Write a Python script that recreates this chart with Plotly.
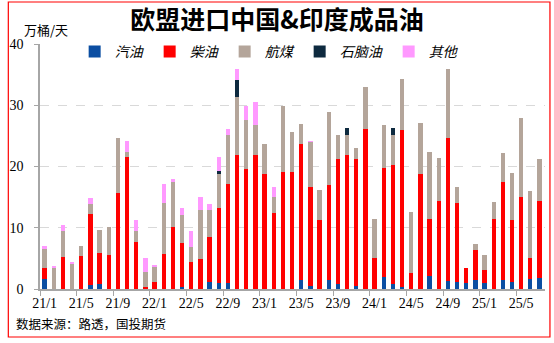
import plotly.graph_objects as go

months = ["21/1","21/2","21/3","21/4","21/5","21/6","21/7","21/8","21/9","21/10","21/11","21/12",
          "22/1","22/2","22/3","22/4","22/5","22/6","22/7","22/8","22/9","22/10","22/11","22/12",
          "23/1","23/2","23/3","23/4","23/5","23/6","23/7","23/8","23/9","23/10","23/11","23/12",
          "24/1","24/2","24/3","24/4","24/5","24/6","24/7","24/8","24/9","24/10","24/11","24/12",
          "25/1","25/2","25/3","25/4","25/5","25/6","25/7"]

gasoline = [1.7,0,0,0,0,0.6,0.8,0,0,0,0,0,
            0,0,0,0.4,0,0,1.2,0.9,0.9,0,0,0,
            0,0,0,0,1.5,0.5,0,1.5,0.8,0,0.55,0,
            0,1.9,0.8,0.3,0,0,2.2,0,1.35,1.1,1.05,1.5,
            0.9,0,1.5,1.15,0,1.6,1.85]
diesel = [1.7,0,5.2,0,5.4,11.6,5.1,5.55,15.7,21.6,7.7,0.3,
          1.1,5.7,10.1,7.1,4.4,4.9,7.3,12.4,16.2,21.8,19.65,21.8,
          18.8,12.4,19.15,19.05,22.2,16.2,11.3,15.5,20.4,21.9,20.75,26.2,
          5.1,17.85,19.4,25.65,2.65,18.8,9.3,14.3,23.25,13.0,2.35,4.8,
          2.15,11.5,16.0,10.15,15.1,3.4,12.45]
jet = [3.2,3.5,4.2,4.2,1.6,1.7,3.8,4.55,8.9,0.7,1.8,2.4,
       2.55,8.3,7.5,4.6,2.4,8.05,4.45,5.5,8.1,9.6,7.95,5.0,
       4.8,2.7,10.65,6.55,3.2,7.3,4.9,11.95,3.9,3.2,1.8,6.7,
       6.4,6.95,5.0,8.35,9.85,8.25,10.8,7.1,11.4,2.6,0,1.0,
       2.5,2.65,4.7,7.6,12.9,11.0,7.0]
naphtha = [0,0,0,0,0,0,0,0,0,0,0,0,
           0,0,0,0,0,0,0,0.5,0,2.8,0,0,
           0,0,0,0,0,0,0,0,0,1.2,0,0,
           0,0,1.1,0,0,0,0,0,0,0,0,0,
           0,0,0,0,0,0,0]
other = [0.5,0.2,1.1,0.2,0,0.9,0,0,0,1.8,1.8,2.3,
         0.25,3.1,0.3,1.2,2.7,2.05,0.85,2.25,0.9,1.7,2.2,3.7,
         0,1.5,0,0,0,0.15,0,0,0,0,0,0,
         0,0,0,0,0,0,0,0,0,0,0,0,
         0,0,0,0,0,0,0]

series = [("汽油", gasoline, "#0B4EA2"),
          ("柴油", diesel, "#FF0000"),
          ("航煤", jet, "#B4A59A"),
          ("石脑油", naphtha, "#0E2A3F"),
          ("其他", other, "#FF99FF")]

W, H = 554, 343
L, R, T, B = 35, 9, 44, 54
pw, ph = W - L - R, H - T - B

fig = go.Figure()
for name, vals, col in series:
    fig.add_trace(go.Bar(x=months, y=vals, name=name, marker=dict(color=col, line=dict(width=0))))

def px_x(x):
    return (x - L) / pw

def px_y(y):
    return (H - B - y) / ph

fig.update_layout(
    width=W, height=H,
    margin=dict(l=L, r=R, t=T, b=B),
    barmode="stack", bargap=0.53,
    plot_bgcolor="white", paper_bgcolor="white",
    font=dict(family="Noto Sans CJK SC", color="black"),
    title=dict(text="<b>欧盟进口中国&印度成品油</b>", x=0.5, xanchor="center",
               y=1 - 20 / H, yanchor="middle",
               font=dict(size=25, family="Noto Sans CJK SC", color="black")),
    legend=dict(orientation="h", x=px_x(70), xanchor="left", y=px_y(52), yanchor="middle",
                bgcolor="rgba(0,0,0,0)", traceorder="normal", itemwidth=30,
                font=dict(size=14, style="italic", family="Noto Sans CJK SC")),
    xaxis=dict(type="category", tickmode="linear", tick0=0, dtick=4, tickangle=0,
               tickson="boundaries", ticks="outside", ticklen=5, tickcolor="#A6A6A6",
               showline=True, linecolor="#A6A6A6", linewidth=1.5, showgrid=False,
               tickfont=dict(family="Liberation Serif", size=14, color="black"),
               range=[-0.5, 54.6]),
    yaxis=dict(range=[0, 40], dtick=10, showgrid=True, gridcolor="#D9D9D9", griddash="dash",
               showline=True, linecolor="#A6A6A6", linewidth=1.5, ticks="outside", ticklen=4,
               tickcolor="#A6A6A6", zeroline=False, ticklabelstandoff=8,
               tickfont=dict(family="Liberation Serif", size=14, color="black")),
)

fig.add_annotation(text="万桶/天", xref="paper", yref="paper", x=px_x(41), y=px_y(30),
                   showarrow=False, font=dict(size=13, family="Noto Sans CJK SC", color="black"),
                   xanchor="center", yanchor="middle")
fig.add_annotation(text="数据来源：路透，国投期货", xref="paper", yref="paper", x=px_x(9), y=px_y(323),
                   showarrow=False, font=dict(size=12.5, family="Noto Sans CJK SC", color="black"),
                   xanchor="left", yanchor="middle")
fig.add_shape(type="rect", xref="paper", yref="paper",
              x0=px_x(3), x1=px_x(550), y0=px_y(337), y1=px_y(2),
              line=dict(color="#FF0000", width=1.2), fillcolor="rgba(0,0,0,0)")

fig.write_html("out.html")
